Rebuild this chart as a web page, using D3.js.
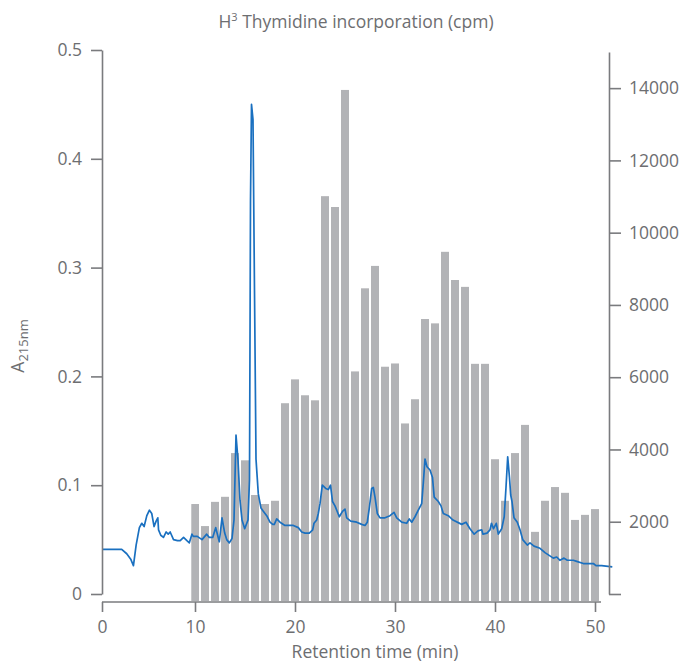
<!DOCTYPE html>
<html><head><meta charset="utf-8">
<script src="https://cdn.jsdelivr.net/npm/d3@7"></script>
<style>
html,body{margin:0;padding:0;background:#fff;}
svg{display:block;font-family:"Open Sans",sans-serif;}
</style></head><body>
<svg id="chart" width="685" height="663"></svg>
<script>
// Fraction collection times (min) and their H3 thymidine counts (cpm)
const fractionMinutes = [10,11,12,13,14,15,16,17,18,19,20,21,22,23,24,25,26,27,28,29,30,
  31,32,33,34,35,36,37,38,39,40,41,42,43,44,45,46,47,48,49,50];
const thymidineCpm = [2490,1880,2550,2690,3900,3700,2740,2490,2580,5280,5940,5500,5360,11010,10710,13950,6160,8460,9080,6290,6380,
  4720,5390,7610,7490,9470,8690,8500,6370,6370,3730,2580,3900,4680,1720,2580,2960,2800,2050,2190,2350];

// UV absorbance trace at 215 nm
const traceTime = [0,2.12,2.66,3.09,3.38,3.67,4.02,4.28,4.53,4.82,5.10,5.35,5.60,5.82,6.00,6.08,6.32,6.61,6.90,7.12,7.33,7.69,8.12,8.41,8.77,9.13,9.39,9.67,9.82,
  10.23,10.70,11.17,11.43,11.77,12.07,12.43,12.70,12.97,13.17,13.43,13.70,13.90,14.10,14.30,14.50,14.70,14.97,15.30,15.45,15.55,15.65,15.80,15.95,16.10,16.33,16.60,16.83,17.17,17.50,17.77,17.93,18.17,18.50,19.00,19.83,
  20.33,20.67,21.00,21.43,21.77,21.90,22.17,22.33,22.50,22.73,23.07,23.33,23.55,23.75,24.00,24.43,24.75,25.00,25.17,25.57,26.17,26.67,27.00,27.23,27.43,27.67,27.83,28.00,28.23,28.50,29.00,29.50,29.90,
  30.17,30.67,31.17,31.43,31.67,32.00,32.33,32.67,32.83,33.00,33.20,33.50,33.75,33.92,34.33,34.60,34.83,35.33,35.80,36.67,37.10,37.50,37.92,38.30,38.67,38.80,39.20,39.50,39.65,39.85,
  40.13,40.33,40.67,40.92,41.10,41.27,41.45,41.57,41.70,41.90,42.23,42.50,42.77,43.23,43.50,43.90,44.50,45.00,45.83,46.17,46.50,46.90,47.23,47.83,48.17,48.83,49.83,50.10,50.67,51.73];
const traceAbs = [0.041,0.041,0.037,0.032,0.026,0.045,0.061,0.065,0.062,0.072,0.077,0.074,0.062,0.067,0.070,0.059,0.054,0.052,0.057,0.055,0.057,0.050,0.049,0.049,0.052,0.049,0.047,0.055,0.053,
  0.053,0.050,0.055,0.052,0.052,0.061,0.048,0.070,0.056,0.050,0.047,0.051,0.068,0.146,0.123,0.086,0.068,0.060,0.068,0.105,0.362,0.450,0.436,0.279,0.124,0.092,0.079,0.076,0.072,0.066,0.064,0.064,0.069,0.066,0.063,0.063,
  0.061,0.057,0.056,0.056,0.059,0.065,0.068,0.074,0.083,0.100,0.097,0.096,0.100,0.085,0.081,0.071,0.076,0.078,0.070,0.067,0.066,0.064,0.063,0.066,0.079,0.097,0.098,0.089,0.074,0.070,0.070,0.072,0.075,
  0.070,0.066,0.065,0.069,0.066,0.071,0.077,0.083,0.102,0.124,0.117,0.114,0.107,0.089,0.085,0.081,0.074,0.072,0.068,0.064,0.066,0.060,0.055,0.058,0.059,0.055,0.056,0.059,0.065,0.060,
  0.065,0.055,0.060,0.071,0.098,0.126,0.107,0.091,0.085,0.070,0.066,0.059,0.050,0.045,0.047,0.044,0.042,0.038,0.033,0.034,0.031,0.033,0.031,0.031,0.030,0.028,0.028,0.026,0.026,0.025];

// Axis ticks
const timeTicks = [0,10,20,30,40,50];
const absTicks = [0,0.1,0.2,0.3,0.4,0.5];
const cpmTicks = [0,2000,4000,6000,8000,10000,12000,14000];

const axisColor = "#7a7b7e";
const textColor = "#6d6e71";
const barColor = "#b2b3b6";
const lineColor = "#1a70c0";

const svg = d3.select("#chart");

const x = d3.scaleLinear().domain([0, 10, 50]).range([102, 195, 595]);
const yAbs = d3.scaleLinear().domain([0, 0.5]).range([594, 50]);
const yCpm = d3.scaleLinear().domain([0, 15000]).range([594, 52]);
const baseY = 601;

// Bars: counts per fraction
const barHalf = 0.4;
svg.append("g")
  .selectAll("rect")
  .data(fractionMinutes.map((m, i) => ({ m, v: thymidineCpm[i] })))
  .join("rect")
  .attr("x", d => x(d.m - barHalf))
  .attr("width", d => x(d.m + barHalf) - x(d.m - barHalf))
  .attr("y", d => yCpm(d.v))
  .attr("height", d => baseY - yCpm(d.v))
  .attr("fill", barColor);

// Absorbance trace
const line = d3.line().x(d => x(d[0])).y(d => yAbs(d[1]));
svg.append("path")
  .datum(traceTime.map((t, i) => [t, traceAbs[i]]))
  .attr("d", line)
  .attr("fill", "none")
  .attr("stroke", lineColor)
  .attr("stroke-width", 1.7)
  .attr("stroke-linejoin", "round");

function styleAxis(g) {
  g.selectAll("path.domain").attr("stroke", axisColor).attr("stroke-width", 1.6);
  g.selectAll(".tick line").attr("stroke", axisColor).attr("stroke-width", 1.6);
  g.selectAll(".tick text").attr("fill", textColor)
    .style("font-family", '"Open Sans", sans-serif').style("font-size", "17.5px");
}

// Left axis
svg.append("g")
  .attr("transform", "translate(102,0)")
  .call(d3.axisLeft(yAbs).tickValues(absTicks).tickSize(11).tickSizeOuter(0).tickPadding(9)
    .tickFormat(d => d === 0 ? "0" : d3.format(".1f")(d)))
  .call(styleAxis);

// Right axis
svg.append("g")
  .attr("transform", "translate(609,0)")
  .call(d3.axisRight(yCpm).tickValues(cpmTicks).tickSize(12).tickSizeOuter(0).tickPadding(8)
    .tickFormat(d => d === 0 ? "" : String(d)))
  .call(styleAxis);

// Bottom axis
const xAxisG = svg.append("g")
  .attr("transform", `translate(0,${baseY + 1})`)
  .call(d3.axisBottom(x).tickValues(timeTicks).tickSize(10).tickSizeOuter(0).tickPadding(9))
  .call(styleAxis);
xAxisG.select("path.domain").remove();
xAxisG.append("line")
  .attr("x1", x(0)).attr("x2", x(50.6))
  .attr("stroke", axisColor).attr("stroke-width", 1.6);

// Titles
const topTitle = svg.append("text")
  .attr("x", 356).attr("y", 28)
  .attr("text-anchor", "middle")
  .attr("fill", textColor)
  .style("font-size", "17.5px");
topTitle.append("tspan").text("H");
topTitle.append("tspan").attr("dy", -7).style("font-size", "11px").text("3");
topTitle.append("tspan").attr("dy", 7).text(" Thymidine incorporation (cpm)");

svg.append("text")
  .attr("x", 375).attr("y", 658)
  .attr("text-anchor", "middle")
  .attr("fill", textColor)
  .style("font-size", "17.5px")
  .text("Retention time (min)");

const yTitle = svg.append("text")
  .attr("transform", "translate(24,346) rotate(-90)")
  .attr("text-anchor", "middle")
  .attr("fill", textColor)
  .style("font-size", "17.5px");
yTitle.append("tspan").text("A");
yTitle.append("tspan").attr("dy", 4).style("font-size", "13px").text("215nm");
</script>
</body></html>
